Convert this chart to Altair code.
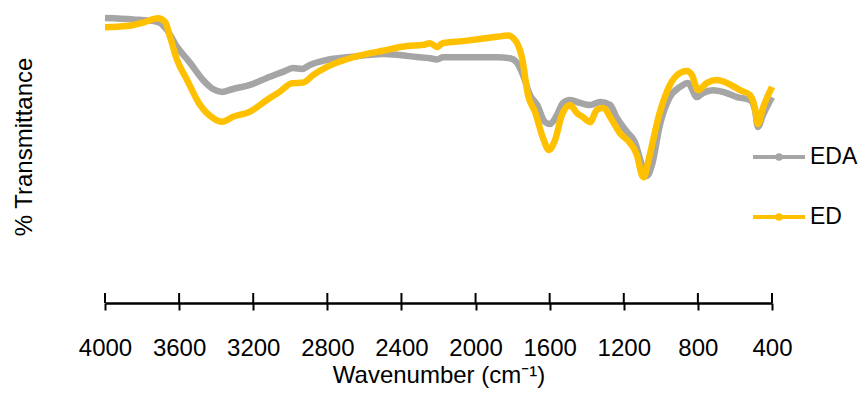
import altair as alt
import pandas as pd

FONT = "Liberation Sans"

# EDA spectrum (wavenumber cm-1, % transmittance - arbitrary scale)
eda_wn = [4000, 3849, 3719, 3703, 3665, 3611, 3541, 3471, 3417, 3369, 3309, 3217,
          3126, 3039, 2985, 2937, 2894, 2802, 2678, 2586, 2500, 2408, 2316, 2246,
          2208, 2176, 2068, 1884, 1814, 1776, 1744, 1706, 1668, 1625, 1598, 1561,
          1528, 1490, 1436, 1382, 1328, 1274, 1237, 1183, 1140, 1102, 1075, 1048,
          1005, 951, 897, 854, 805, 773, 719, 665, 589, 519, 492, 476, 449, 400]
eda_t = [98.3, 97.8, 97.0, 96.6, 94.1, 88.3, 82.8, 76.9, 73.8, 72.8, 73.8, 75.2,
         77.6, 79.7, 81.0, 80.7, 82.1, 83.8, 84.8, 85.5, 85.9, 85.5, 84.8, 84.4,
         84.0, 84.7, 84.7, 84.7, 84.4, 82.8, 78.6, 71.7, 68.3, 62.4, 61.7, 64.8,
         69.0, 70.0, 69.0, 68.3, 69.3, 68.3, 63.8, 59.0, 55.5, 47.6, 43.8, 47.6,
         61.4, 71.0, 74.5, 75.9, 71.0, 72.4, 73.4, 72.8, 71.0, 70.0, 66.6, 60.7, 64.8, 71.0]

# ED spectrum
ed_wn = [4000, 3881, 3795, 3714, 3676, 3649, 3611, 3557, 3487, 3417, 3369, 3309,
         3217, 3126, 3056, 2991, 2931, 2877, 2802, 2678, 2586, 2500, 2370, 2284,
         2246, 2208, 2176, 2068, 1976, 1884, 1825, 1787, 1749, 1717, 1679, 1636,
         1604, 1571, 1534, 1490, 1453, 1420, 1382, 1345, 1312, 1264, 1221, 1167,
         1129, 1102, 1091, 1069, 1005, 951, 897, 859, 832, 800, 751, 697, 643,
         573, 519, 492, 476, 449, 400]
ed_t = [95.1, 95.5, 96.7, 98.2, 97.0, 91.8, 83.8, 76.9, 68.3, 63.8, 62.5, 64.2,
        66.0, 70.0, 72.9, 75.8, 76.0, 78.6, 81.4, 84.4, 85.9, 87.0, 88.6, 89.0,
        89.6, 88.3, 89.6, 90.3, 91.0, 91.8, 92.2, 90.7, 84.5, 71.7, 65.9, 56.9,
        52.8, 56.2, 64.8, 68.3, 65.5, 64.1, 62.4, 66.6, 67.2, 63.1, 58.6, 55.2,
        51.0, 44.1, 43.4, 48.6, 65.9, 75.2, 79.3, 80.0, 78.6, 73.4, 75.9, 76.9, 75.9,
        73.4, 71.7, 67.2, 61.7, 67.2, 74.5]

series_names = ["EDA", "ED"]
series_colors = ["#A5A5A5", "#FFC000"]

major_ticks = [4000, 3600, 3200, 2800, 2400, 2000, 1600, 1200, 800, 400]
minor_ticks = [4000, 3900, 3800, 3700, 3600, 3500, 3400, 3300, 3200, 3100, 3000,
               2900, 2800, 2700, 2600, 2500, 2400, 2300, 2200, 2100, 2000, 1900,
               1800, 1700, 1600, 1500, 1400, 1300, 1200, 1100, 1000, 900, 800,
               700, 600, 500, 400]

eda_df = pd.DataFrame({"wn": eda_wn, "t": eda_t, "series": "EDA"})
ed_df = pd.DataFrame({"wn": ed_wn, "t": ed_t, "series": "ED"})
major_df = pd.DataFrame({"wn": major_ticks})

W, H = 667, 290

x_scale = alt.Scale(domain=[400, 4000], reverse=True, nice=False, zero=False)
y_scale = alt.Scale(domain=[0, 100], nice=False, zero=False)
color_scale = alt.Scale(domain=series_names, range=series_colors)

x_axis = alt.Axis(
    values=minor_ticks,
    labelExpr="datum.value % 400 === 0 ? datum.label : ''",
    format="d",
    title="Wavenumber (cm⁻¹)",
    grid=False,
    domainColor="black", domainWidth=2.5,
    tickColor="black", tickWidth=2, tickSize=7,
    labelFont=FONT, labelFontSize=24, labelColor="black",
    labelPadding=45, labelBaseline="alphabetic",
    labelOverlap=False, labelFlush=False,
    titleFont=FONT, titleFontSize=24, titleFontWeight="normal", titleColor="black",
    titleBaseline="alphabetic", titleY=79,
)

y_axis = alt.Axis(
    title="% Transmittance",
    domain=False, ticks=False, labels=False, grid=False,
    titleFont=FONT, titleFontSize=24, titleFontWeight="normal", titleColor="black",
    titleX=-81, titleY=133.5, titleAngle=270,
    titleAlign="center", titleBaseline="middle",
)

legend_path = "M-1,0L1,0M0.07,0A0.07,0.07,0,1,1,-0.07,0A0.07,0.07,0,1,1,0.07,0"

legend = alt.Legend(
    title=None, orient="none", legendX=646, legendY=116,
    symbolType=legend_path, symbolSize=2704, symbolStrokeWidth=4,
    labelFont=FONT, labelFontSize=23, labelColor="black", labelOffset=3,
    rowPadding=20, padding=0,
)

color_enc = alt.Color("series:N", scale=color_scale, legend=legend)

eda_line = alt.Chart(eda_df).mark_line(strokeWidth=6.5, interpolate="monotone").encode(
    x=alt.X("wn:Q", scale=x_scale, axis=x_axis),
    y=alt.Y("t:Q", scale=y_scale, axis=y_axis),
    color=color_enc,
)

ed_line = alt.Chart(ed_df).mark_line(strokeWidth=6.5, interpolate="monotone").encode(
    x=alt.X("wn:Q", scale=x_scale),
    y=alt.Y("t:Q", scale=y_scale),
    color=color_enc,
)

major_rules = alt.Chart(major_df).mark_rule(color="black", strokeWidth=2).encode(
    x=alt.X("wn:Q", scale=x_scale),
    y=alt.value(H - 10),
    y2=alt.value(H),
)

chart = alt.layer(eda_line, ed_line, major_rules).properties(
    width=W, height=H,
    autosize=alt.AutoSizeParams(type="none"),
    padding={"left": 97, "top": 5, "right": 86, "bottom": 85},
).configure_view(stroke=None)

chart.save("out.html", embed_options={"renderer": "svg", "actions": False})
